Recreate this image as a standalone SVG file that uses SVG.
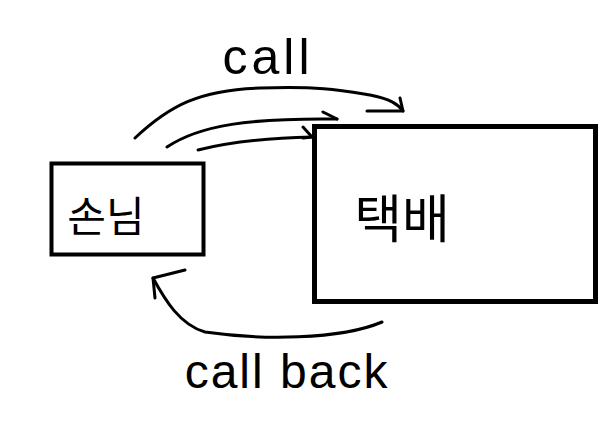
<svg xmlns="http://www.w3.org/2000/svg" width="608" height="427" viewBox="0 0 608 427">
<style>
.box{fill:#fff;stroke:#000}
.ln{fill:none;stroke:#000;stroke-width:3;stroke-linecap:round;stroke-linejoin:round}
.t{font-family:"Liberation Sans","Noto Sans CJK KR",sans-serif;fill:#000}
</style>
<rect width="608" height="427" fill="#fff"/>
<g id="customer">
<rect class="box" x="51.5" y="163.5" width="152" height="91" stroke-width="4"/>
<text class="t" x="106" y="232" font-size="42" text-anchor="middle">손님</text>
</g>
<g id="delivery">
<rect class="box" x="314.5" y="126.5" width="281" height="175" stroke-width="5"/>
<text class="t" x="402" y="238" font-size="52" text-anchor="middle">택배</text>
</g>
<g id="connectors">
<path class="ln" d="M135,138 C170,105 200,90 260,88 C320,86 340,90 370,95 C390,99 398,104 403,111"/>
<path class="ln" d="M367,111 L403,111 L400,98"/>
<path class="ln" d="M167,147 C200,125 250,118 337,119"/>
<path class="ln" d="M323,112 L337,119"/>
<path class="ln" d="M198,150 C230,142 270,138 312,137"/>
<path class="ln" d="M303,127 L312,137 L303,138"/>
<path class="ln" d="M382,322 C340,340 260,340 205,332 C180,325 165,300 153,278"/>
<path class="ln" d="M185,270 L153,278 L155,298"/>
</g>
<g id="labels">
<text class="t" x="268" y="74" font-size="50" letter-spacing="4" text-anchor="middle">call</text>
<text class="t" x="287" y="388" font-size="48" letter-spacing="2" text-anchor="middle">call back</text>
</g>
</svg>
